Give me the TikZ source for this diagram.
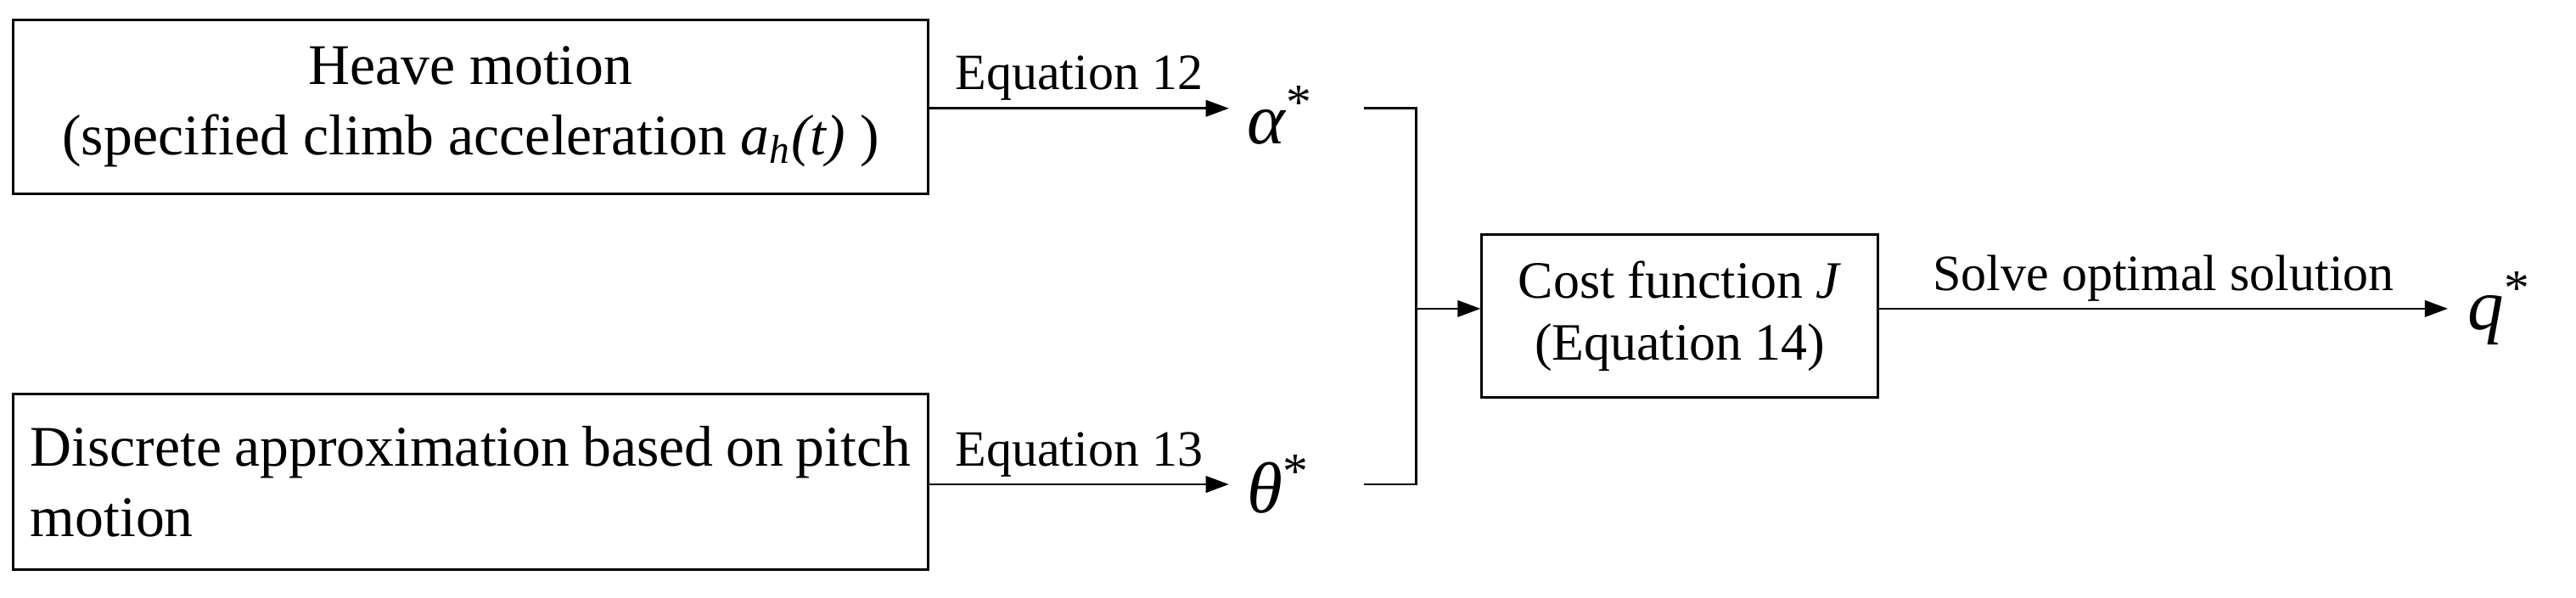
\documentclass[tikz,border=0pt]{standalone}
\usepackage{fontspec}
\setmainfont{Liberation Serif}
\usetikzlibrary{arrows.meta}
\begin{document}
\begin{tikzpicture}[x=0.5pt,y=-0.5pt,
  box/.style={draw,line width=0.8pt,inner sep=0pt,font=\fontsize{17.5}{21.5}\selectfont},
  arr/.style={-{Triangle[length=7pt,width=5pt]},line width=0.7pt},
  ln/.style={line width=0.7pt},
  lab/.style={font=\fontsize{15.5}{18}\selectfont,anchor=south,inner sep=2pt},
  var/.style={font=\fontsize{22}{24}\selectfont}]
\useasboundingbox (0,0) rectangle (1568,364);
\node[box,minimum width=278.5pt,minimum height=53pt,align=center] (b1) at (286.5,65) {Heave motion\\(specified climb acceleration \textit{a\textsubscript{h}(t)} )};
\node[box,minimum width=278.5pt,minimum height=53.5pt] (b2) at (286.5,293.5) {\parbox{268pt}{\parindent=0pt Discrete approximation based on pitch motion}};
\node[box,minimum width=120.5pt,minimum height=49.5pt,align=center,font=\fontsize{16}{19}\selectfont] (b3) at (1022.5,192.5) {Cost function \textit{J}\\(Equation 14)};
\node[var,anchor=west] (a) at (752,70) {\textit{α}\textsuperscript{*}};
\node[var,anchor=west] (t) at (752,295) {\textit{θ}\textsuperscript{*}};
\node[var,anchor=west] (q) at (1495,188) {\textit{q}\textsuperscript{*}};
\coordinate (ae) at (830,66);
\coordinate (te) at (830,295);
\coordinate (j) at (862,188);
\draw[arr] (b1.east |- 0,66) -- node[lab]{Equation 12} (748,66);
\draw[arr] (b2.east |- 0,295) -- node[lab]{Equation 13} (748,295);
\draw[ln] (ae) -| (j) |- (te);
\draw[arr] (j) -- (b3.west |- j);
\draw[arr] (b3.east |- j) -- node[lab]{Solve optimal solution} (1490,188);
\end{tikzpicture}
\end{document}
